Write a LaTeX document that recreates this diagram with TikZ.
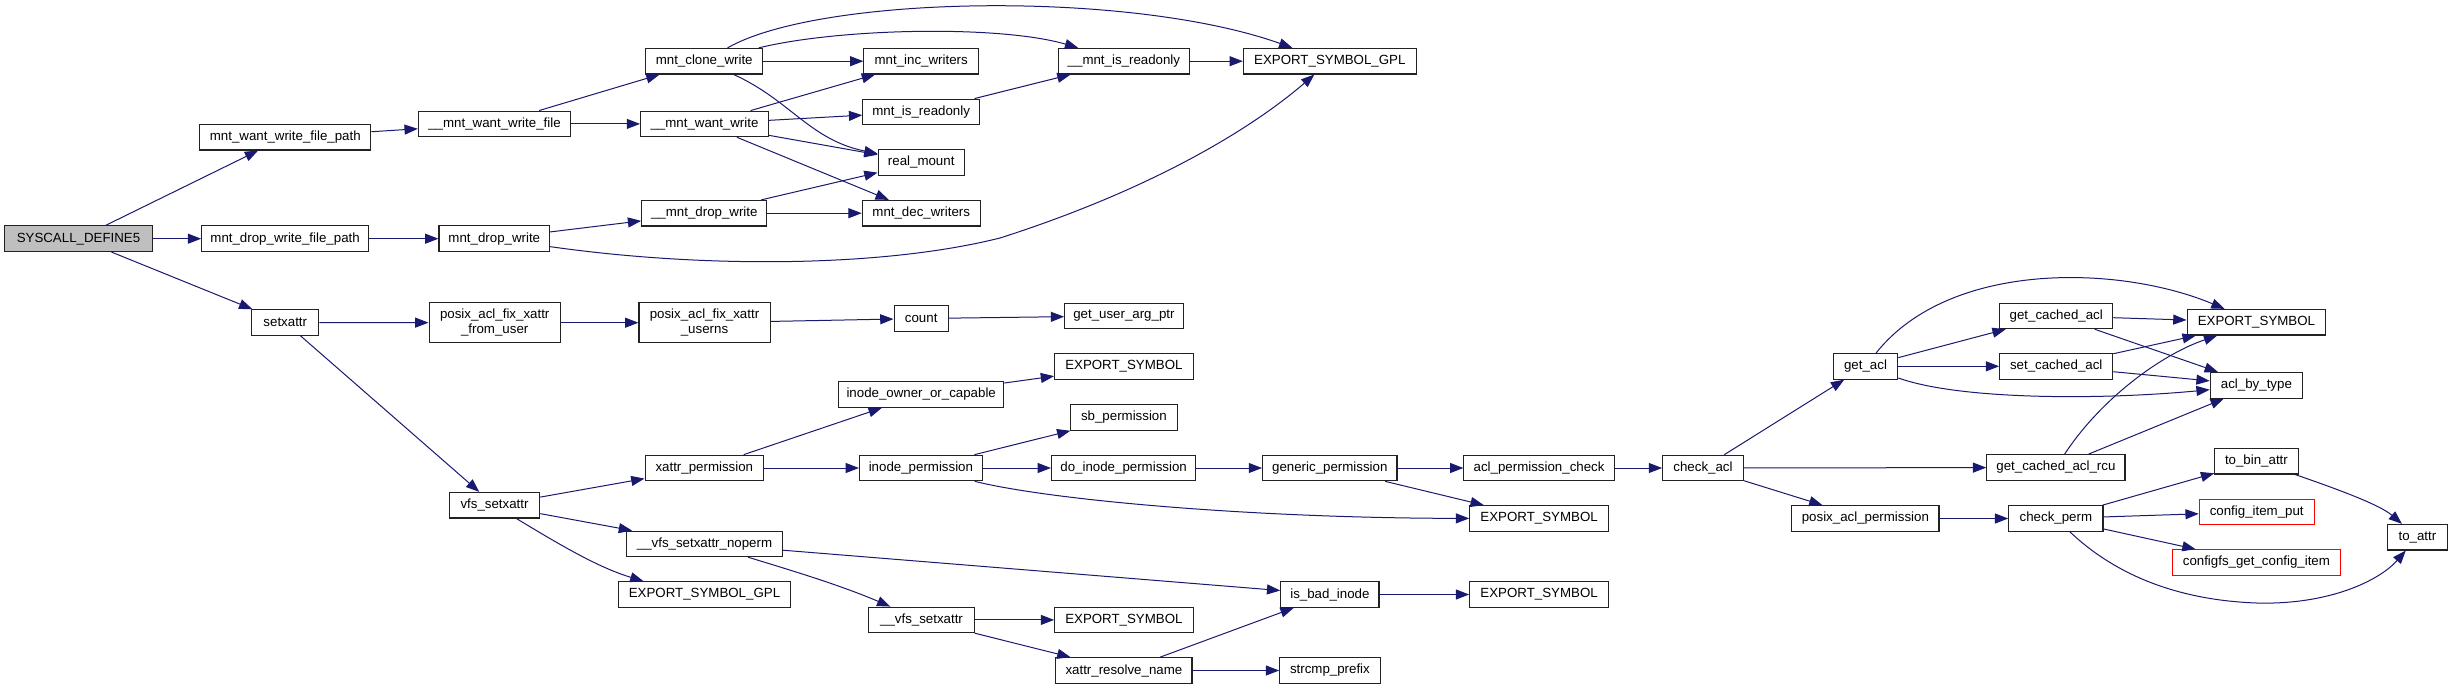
\documentclass[tikz,border=0pt]{standalone}
\usepackage{fontspec}
\setmainfont{Liberation Sans}
\usetikzlibrary{arrows.meta}
\definecolor{edgec}{HTML}{191970}
\definecolor{rootfill}{HTML}{BFBFBF}
\definecolor{boxline}{HTML}{222222}
\begin{document}
\begin{tikzpicture}[x=1pt,y=-1pt,
  box/.style={draw=boxline, line width=1.1pt, fill=white, inner sep=0pt, minimum height=25.6pt,
    font=\fontsize{13.3}{14.5}\selectfont, align=center},
  twoline/.style={minimum height=40pt},
  redbox/.style={draw=red},
  rootbox/.style={fill=rootfill},
  e/.style={draw=edgec, line width=1pt, -{Triangle[length=13.3pt,width=10pt]}},
]
\fill[white] (0,0) rectangle (2452,689);
\useasboundingbox (0,0) rectangle (2452,689);

% nodes
\node[box,rootbox,minimum width=147.5pt] (sys) at (78.5,238.7) {SYSCALL\_DEFINE5};
\node[box,minimum width=171.2pt] (wfp) at (285.3,137.2) {mnt\_want\_write\_file\_path};
\node[box,minimum width=166.8pt] (dfp) at (285.1,238.7) {mnt\_drop\_write\_file\_path};
\node[box,minimum width=66.8pt] (setx) at (285.3,322.5) {setxattr};
\node[box,minimum width=152.3pt] (mwwf) at (494.5,123.9) {\_\_mnt\_want\_write\_file};
\node[box,minimum width=110.7pt] (mdw) at (494.3,238.7) {mnt\_drop\_write};
\node[box,twoline,minimum width=131.3pt] (pfu) at (494.7,322.7) {posix\_acl\_fix\_xattr\\\_from\_user};
\node[box,minimum width=117.4pt] (mcw) at (704.2,61.2) {mnt\_clone\_write};
\node[box,minimum width=127.8pt] (mww) at (704.5,123.9) {\_\_mnt\_want\_write};
\node[box,minimum width=125.1pt] (mdw2) at (704.3,213.2) {\_\_mnt\_drop\_write};
\node[box,twoline,minimum width=131.1pt] (pfn) at (704.5,322.7) {posix\_acl\_fix\_xattr\\\_userns};
\node[box,minimum width=114.6pt] (miw) at (921.2,61.2) {mnt\_inc\_writers};
\node[box,minimum width=116.8pt] (mir) at (921.2,111.9) {mnt\_is\_readonly};
\node[box,minimum width=86.1pt] (rm) at (921.2,162.4) {real\_mount};
\node[box,minimum width=117.9pt] (mdec) at (921.2,213.2) {mnt\_dec\_writers};
\node[box,minimum width=54.3pt] (cnt) at (921.2,318.5) {count};
\node[box,minimum width=130.5pt] (mir2) at (1123.9,61.2) {\_\_mnt\_is\_readonly};
\node[box,minimum width=172.8pt] (gpl) at (1329.8,61.2) {EXPORT\_SYMBOL\_GPL};
\node[box,minimum width=118.5pt] (guap) at (1123.9,315.9) {get\_user\_arg\_ptr};
\node[box,minimum width=90.5pt] (vfs) at (494.5,505.2) {vfs\_setxattr};
\node[box,minimum width=118.5pt] (xp) at (704.3,468) {xattr\_permission};
\node[box,minimum width=155.2pt] (vfsn) at (704.5,543.9) {\_\_vfs\_setxattr\_noperm};
\node[box,minimum width=171.6pt] (gpl2) at (704.5,594.5) {EXPORT\_SYMBOL\_GPL};
\node[box,minimum width=165.1pt] (ioc) at (921.2,394.5) {inode\_owner\_or\_capable};
\node[box,minimum width=122.8pt] (ip) at (920.9,468) {inode\_permission};
\node[box,minimum width=105.3pt] (vfs2) at (921.5,619.9) {\_\_vfs\_setxattr};
\node[box,minimum width=138.5pt] (es1) at (1123.9,366.5) {EXPORT\_SYMBOL};
\node[box,minimum width=106.3pt] (sbp) at (1123.9,417.4) {sb\_permission};
\node[box,minimum width=144.2pt] (dip) at (1123.6,468) {do\_inode\_permission};
\node[box,minimum width=138.5pt] (es2) at (1123.9,619.9) {EXPORT\_SYMBOL};
\node[box,minimum width=136.1pt] (xrn) at (1123.9,670.5) {xattr\_resolve\_name};
\node[box,minimum width=134.4pt] (gp) at (1329.8,468) {generic\_permission};
\node[box,minimum width=98.2pt] (ibi) at (1329.9,594.5) {is\_bad\_inode};
\node[box,minimum width=100.3pt] (scp) at (1329.9,670.5) {strcmp\_prefix};
\node[box,minimum width=150.4pt] (apc) at (1539.1,468) {acl\_permission\_check};
\node[box,minimum width=138.8pt] (es3) at (1539.1,518.5) {EXPORT\_SYMBOL};
\node[box,minimum width=138.8pt] (es4) at (1539.1,594.5) {EXPORT\_SYMBOL};
\node[box,minimum width=80.7pt] (ca) at (1703,468) {check\_acl};
\node[box,minimum width=64.5pt] (ga) at (1865.5,366.3) {get\_acl};
\node[box,minimum width=147.2pt] (pap) at (1865.4,518.5) {posix\_acl\_permission};
\node[box,minimum width=113pt] (gca) at (2056.2,315.9) {get\_cached\_acl};
\node[box,minimum width=113pt] (sca) at (2056.2,366.3) {set\_cached\_acl};
\node[box,minimum width=138.2pt] (gcar) at (2055.9,467.5) {get\_cached\_acl\_rcu};
\node[box,minimum width=94.2pt] (cp) at (2055.9,518.5) {check\_perm};
\node[box,minimum width=138.7pt] (es5) at (2256.4,322.2) {EXPORT\_SYMBOL};
\node[box,minimum width=92.3pt] (abt) at (2256.4,385.3) {acl\_by\_type};
\node[box,minimum width=83.3pt] (tba) at (2256.4,461.2) {to\_bin\_attr};
\node[box,redbox,minimum width=114.9pt] (cip) at (2256.7,511.9) {config\_item\_put};
\node[box,redbox,minimum width=167.3pt] (cgci) at (2256.4,562.5) {configfs\_get\_config\_item};
\node[box,minimum width=59.3pt] (ta) at (2417.4,537.2) {to\_attr};

% edges
\draw[e] (sys) -- (wfp);
\draw[e] (sys) -- (dfp);
\draw[e] (sys) -- (setx);
\draw[e] (wfp) -- (mwwf);
\draw[e] (dfp) -- (mdw);
\draw[e] (setx) -- (pfu);
\draw[e] (setx) -- (vfs);
\draw[e] (mwwf) -- (mcw);
\draw[e] (mwwf) -- (mww);
\draw[e] (mdw) -- (mdw2);
\draw[e] (mdw) .. controls (700,268) and (880,268) .. (1000,238) .. controls (1150,190) and (1250,130) .. (gpl);
\draw[e] (pfu) -- (pfn);
\draw[e] (mcw) -- (miw);
\draw[e] (mcw) .. controls (840,28) and (1000,25) .. (mir2);
\draw[e] (mcw) .. controls (820,-5) and (1130,-10) .. (gpl);
\draw[e] (mcw) .. controls (790,100) and (810,140) .. (rm);
\draw[e] (mww) -- (miw);
\draw[e] (mww) -- (mir);
\draw[e] (mww) -- (rm);
\draw[e] (mww) -- (mdec);
\draw[e] (mdw2) -- (rm);
\draw[e] (mdw2) -- (mdec);
\draw[e] (mir) -- (mir2);
\draw[e] (mir2) -- (gpl);
\draw[e] (pfn) -- (cnt);
\draw[e] (cnt) -- (guap);
\draw[e] (vfs) -- (xp);
\draw[e] (vfs) -- (vfsn);
\draw[e] (vfs) .. controls (565,548) and (600,568) .. ([xshift=-61pt]gpl2.north);
\draw[e] (xp) -- (ioc);
\draw[e] (xp) -- (ip);
\draw[e] (ioc) -- (es1);
\draw[e] (ip) -- (sbp);
\draw[e] (ip) -- (dip);
\draw[e] (ip) .. controls (1050,500) and (1250,518) .. (es3);
\draw[e] (dip) -- (gp);
\draw[e] (gp) -- (apc);
\draw[e] (gp) -- (es3);
\draw[e] (vfsn) -- (ibi);
\draw[e] (vfsn) .. controls (790,570) and (840,585) .. (vfs2);
\draw[e] (vfs2) -- (es2);
\draw[e] (vfs2) -- (xrn);
\draw[e] (xrn) -- (ibi);
\draw[e] (xrn) -- (scp);
\draw[e] (ibi) -- (es4);
\draw[e] (apc) -- (ca);
\draw[e] (ca) -- (ga);
\draw[e] (ca) -- (gcar);
\draw[e] (ca) -- (pap);
\draw[e] (ga) -- (gca);
\draw[e] (ga) -- (sca);
\draw[e] (ga) .. controls (1950,260) and (2120,265) .. (es5);
\draw[e] (ga) .. controls (1960,400) and (2100,400) .. (abt);
\draw[e] (gca) -- (es5);
\draw[e] (gca) -- (abt);
\draw[e] (sca) -- (es5);
\draw[e] (sca) -- (abt);
\draw[e] (gcar) .. controls (2100,400) and (2160,355) .. (es5);
\draw[e] (gcar) -- (abt);
\draw[e] (pap) -- (cp);
\draw[e] (cp) -- (tba);
\draw[e] (cp) -- (cip);
\draw[e] (cp) -- (cgci);
\draw[e] (cp) .. controls (2110,570) and (2170,600) .. (2257,603) .. controls (2330,605) and (2380,580) .. (ta);
\draw[e] (tba) .. controls (2340,490) and (2380,505) .. (ta);
\end{tikzpicture}
\end{document}
